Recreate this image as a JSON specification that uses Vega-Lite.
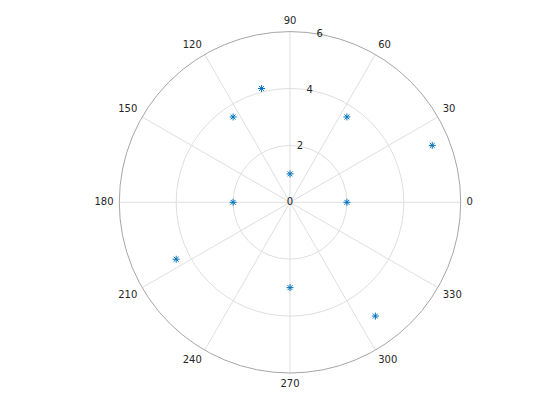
{
  "$schema": "https://vega.github.io/schema/vega-lite/v6.json",
  "width": 560,
  "height": 420,
  "autosize": {"type": "none"},
  "padding": 0,
  "background": "white",
  "config": {"view": {"stroke": null}, "font": "DejaVu Sans"},
  "datasets": {
    "rings": [{"r": 2}, {"r": 4}],
    "outer": [{"r": 6}],
    "spokes": [
      {"a": 0, "ex": 6, "ey": 0},
      {"a": 30, "ex": 5.196, "ey": 3},
      {"a": 60, "ex": 3, "ey": 5.196},
      {"a": 90, "ex": 0, "ey": 6},
      {"a": 120, "ex": -3, "ey": 5.196},
      {"a": 150, "ex": -5.196, "ey": 3},
      {"a": 180, "ex": -6, "ey": 0},
      {"a": 210, "ex": -5.196, "ey": -3},
      {"a": 240, "ex": -3, "ey": -5.196},
      {"a": 270, "ex": 0, "ey": -6},
      {"a": 300, "ex": 3, "ey": -5.196},
      {"a": 330, "ex": 5.196, "ey": -3}
    ],
    "thetaLabels": [
      {"a": 0, "label": "0", "lx": 6.2, "ly": 0},
      {"a": 30, "label": "30", "lx": 5.369, "ly": 3.1},
      {"a": 60, "label": "60", "lx": 3.1, "ly": 5.369},
      {"a": 90, "label": "90", "lx": 0, "ly": 6.2},
      {"a": 120, "label": "120", "lx": -3.1, "ly": 5.369},
      {"a": 150, "label": "150", "lx": -5.369, "ly": 3.1},
      {"a": 180, "label": "180", "lx": -6.2, "ly": 0},
      {"a": 210, "label": "210", "lx": -5.369, "ly": -3.1},
      {"a": 240, "label": "240", "lx": -3.1, "ly": -5.369},
      {"a": 270, "label": "270", "lx": 0, "ly": -6.2},
      {"a": 300, "label": "300", "lx": 3.1, "ly": -5.369},
      {"a": 330, "label": "330", "lx": 5.369, "ly": -3.1}
    ],
    "rLabels": [
      {"label": "0", "lx": 0, "ly": 0},
      {"label": "2", "lx": 0.347, "ly": 1.970},
      {"label": "4", "lx": 0.695, "ly": 3.939},
      {"label": "6", "lx": 1.042, "ly": 5.909}
    ],
    "points": [
      {"x": 0, "y": 1},
      {"x": 2, "y": 0},
      {"x": 2, "y": 3},
      {"x": 5, "y": 2},
      {"x": -1, "y": 4},
      {"x": -2, "y": 3},
      {"x": -2, "y": 0},
      {"x": -4, "y": -2},
      {"x": 0, "y": -3},
      {"x": 3, "y": -4}
    ]
  },
  "layer": [
    {
      "data": {"name": "spokes"},
      "mark": {"type": "rule", "stroke": "#dfdfdf", "strokeWidth": 1},
      "encoding": {
        "x": {"field": "ex", "type": "quantitative", "scale": {"domain": [-10.193, 9.490], "nice": false, "zero": false}, "axis": null},
        "y": {"field": "ey", "type": "quantitative", "scale": {"domain": [-7.652, 7.111], "nice": false, "zero": false}, "axis": null},
        "x2": {"datum": 0},
        "y2": {"datum": 0}
      }
    },
    {
      "data": {"name": "rings"},
      "mark": {"type": "arc", "theta": 0, "theta2": 6.2832, "fill": null, "filled": false, "stroke": "#dfdfdf", "strokeWidth": 1},
      "encoding": {
        "x": {"datum": 0, "type": "quantitative"},
        "y": {"datum": 0, "type": "quantitative"},
        "radius": {"field": "r", "type": "quantitative", "stack": null, "scale": {"type": "linear", "domain": [0, 6], "range": [0, 170.7], "zero": true}, "legend": null}
      }
    },
    {
      "data": {"name": "outer"},
      "mark": {"type": "arc", "theta": 0, "theta2": 6.2832, "fill": null, "filled": false, "stroke": "#a6a6a6", "strokeWidth": 1},
      "encoding": {
        "x": {"datum": 0, "type": "quantitative"},
        "y": {"datum": 0, "type": "quantitative"},
        "radius": {"field": "r", "type": "quantitative", "stack": null, "scale": {"type": "linear", "domain": [0, 6], "range": [0, 170.7], "zero": true}, "legend": null}
      }
    },
    {
      "data": {"name": "thetaLabels"},
      "transform": [{"filter": "datum.a == 0"}],
      "mark": {"type": "text", "align": "left", "baseline": "middle", "fontSize": 10, "color": "#262626"},
      "encoding": {"x": {"field": "lx", "type": "quantitative"}, "y": {"field": "ly", "type": "quantitative"}, "text": {"field": "label"}}
    },
    {
      "data": {"name": "thetaLabels"},
      "transform": [{"filter": "datum.a == 30 || datum.a == 60"}],
      "mark": {"type": "text", "align": "left", "baseline": "bottom", "fontSize": 10, "color": "#262626"},
      "encoding": {"x": {"field": "lx", "type": "quantitative"}, "y": {"field": "ly", "type": "quantitative"}, "text": {"field": "label"}}
    },
    {
      "data": {"name": "thetaLabels"},
      "transform": [{"filter": "datum.a == 90"}],
      "mark": {"type": "text", "align": "center", "baseline": "bottom", "fontSize": 10, "color": "#262626"},
      "encoding": {"x": {"field": "lx", "type": "quantitative"}, "y": {"field": "ly", "type": "quantitative"}, "text": {"field": "label"}}
    },
    {
      "data": {"name": "thetaLabels"},
      "transform": [{"filter": "datum.a == 120 || datum.a == 150"}],
      "mark": {"type": "text", "align": "right", "baseline": "bottom", "fontSize": 10, "color": "#262626"},
      "encoding": {"x": {"field": "lx", "type": "quantitative"}, "y": {"field": "ly", "type": "quantitative"}, "text": {"field": "label"}}
    },
    {
      "data": {"name": "thetaLabels"},
      "transform": [{"filter": "datum.a == 180"}],
      "mark": {"type": "text", "align": "right", "baseline": "middle", "fontSize": 10, "color": "#262626"},
      "encoding": {"x": {"field": "lx", "type": "quantitative"}, "y": {"field": "ly", "type": "quantitative"}, "text": {"field": "label"}}
    },
    {
      "data": {"name": "thetaLabels"},
      "transform": [{"filter": "datum.a == 210 || datum.a == 240"}],
      "mark": {"type": "text", "align": "right", "baseline": "top", "fontSize": 10, "color": "#262626"},
      "encoding": {"x": {"field": "lx", "type": "quantitative"}, "y": {"field": "ly", "type": "quantitative"}, "text": {"field": "label"}}
    },
    {
      "data": {"name": "thetaLabels"},
      "transform": [{"filter": "datum.a == 270"}],
      "mark": {"type": "text", "align": "center", "baseline": "top", "fontSize": 10, "color": "#262626"},
      "encoding": {"x": {"field": "lx", "type": "quantitative"}, "y": {"field": "ly", "type": "quantitative"}, "text": {"field": "label"}}
    },
    {
      "data": {"name": "thetaLabels"},
      "transform": [{"filter": "datum.a == 300 || datum.a == 330"}],
      "mark": {"type": "text", "align": "left", "baseline": "top", "fontSize": 10, "color": "#262626"},
      "encoding": {"x": {"field": "lx", "type": "quantitative"}, "y": {"field": "ly", "type": "quantitative"}, "text": {"field": "label"}}
    },
    {
      "data": {"name": "rLabels"},
      "mark": {"type": "text", "align": "center", "baseline": "middle", "fontSize": 10, "color": "#262626"},
      "encoding": {"x": {"field": "lx", "type": "quantitative"}, "y": {"field": "ly", "type": "quantitative"}, "text": {"field": "label"}}
    },
    {
      "data": {"name": "points"},
      "mark": {"type": "point", "shape": "M0,-1L0,1M-1,0L1,0M-0.7,-0.7L0.7,0.7M-0.7,0.7L0.7,-0.7", "filled": false, "stroke": "#0072BD", "strokeWidth": 1, "size": 49, "opacity": 1},
      "encoding": {"x": {"field": "x", "type": "quantitative"}, "y": {"field": "y", "type": "quantitative"}}
    }
  ]
}
